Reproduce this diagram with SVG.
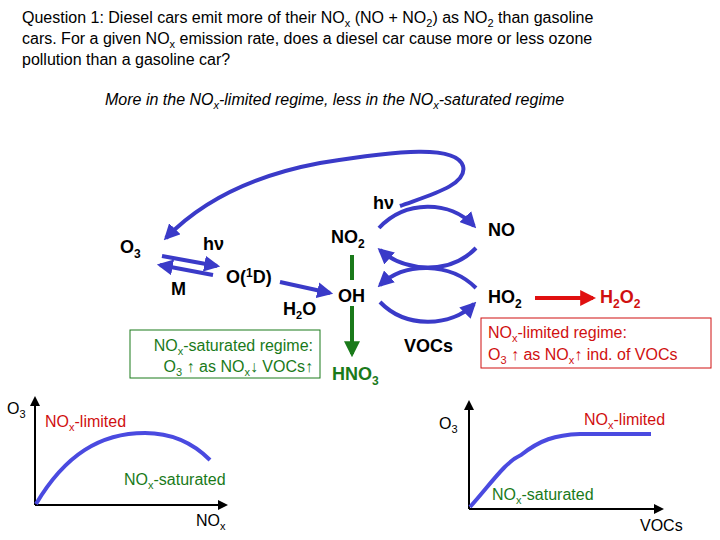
<svg xmlns="http://www.w3.org/2000/svg" width="720" height="540" viewBox="0 0 720 540">
<style>
text{font-family:"Liberation Sans",Arial,sans-serif}
.q{font-size:16px;fill:#000}
.b{font-size:18px;font-weight:bold;fill:#000}
.g{fill:#1a7a1a}
.r{fill:#d01010}
.bl{fill:none;stroke:#3a3ac8;stroke-width:4}
.ax{fill:none;stroke:#000;stroke-width:2}
.n{font-size:16px}
</style>
<defs>
<marker id="ab" viewBox="0 0 10 10" refX="8" refY="5" markerWidth="4" markerHeight="4" orient="auto"><path d="M0,0L10,5L0,10z" fill="#3a3ac8"/></marker>
<marker id="ag" viewBox="0 0 10 10" refX="8" refY="5" markerWidth="4" markerHeight="4" orient="auto"><path d="M0,0L10,5L0,10z" fill="#1a7a1a"/></marker>
<marker id="ar" viewBox="0 0 10 10" refX="8" refY="5" markerWidth="4" markerHeight="4" orient="auto"><path d="M0,0L10,5L0,10z" fill="#e01010"/></marker>
<marker id="ak" viewBox="0 0 10 10" refX="8" refY="5" markerWidth="5" markerHeight="5" orient="auto"><path d="M0,0L10,5L0,10z" fill="#000"/></marker>
</defs>
<rect width="720" height="540" fill="#fff"/>
<g id="question">
<text x="22" y="23" class="q">Question 1: Diesel cars emit more of their NO<tspan font-size="11" dy="4">x</tspan><tspan dy="-4"> (NO + NO</tspan><tspan font-size="11" dy="4">2</tspan><tspan dy="-4">) as NO</tspan><tspan font-size="11" dy="4">2</tspan><tspan dy="-4"> than gasoline</tspan></text>
<text x="22" y="44" class="q">cars. For a given NO<tspan font-size="11" dy="4">x</tspan><tspan dy="-4"> emission rate, does a diesel car cause more or less ozone</tspan></text>
<text x="22" y="65" class="q">pollution than a gasoline car?</text>
<text x="105" y="105" class="q" font-style="italic">More in the NO<tspan font-size="11" dy="4">x</tspan><tspan dy="-4">-limited regime, less in the NO</tspan><tspan font-size="11" dy="4">x</tspan><tspan dy="-4">-saturated regime</tspan></text>
</g>
<g id="connectors">
<path class="bl" marker-end="url(#ab)" d="M400,206 C430,195 468,185 463,166 C456,145 400,150 320,163 C240,178 195,208 166,238"/>
<path class="bl" marker-end="url(#ab)" d="M162,256 L217,266"/>
<path class="bl" marker-end="url(#ab)" d="M213,275 L160,265"/>
<path class="bl" marker-end="url(#ab)" d="M280,282 L330,293"/>
<path class="bl" marker-end="url(#ab)" d="M379,228 C405,200 450,200 474,226"/>
<path class="bl" marker-end="url(#ab)" d="M476,248 C450,275 405,272 380,250"/>
<path class="bl" marker-end="url(#ab)" d="M476,288 C450,262 405,262 380,285"/>
<path class="bl" marker-end="url(#ab)" d="M380,302 C405,328 450,328 474,304"/>
<path fill="none" stroke="#1a7a1a" stroke-width="4" d="M352,255 L352,280"/>
<path fill="none" stroke="#1a7a1a" stroke-width="4" marker-end="url(#ag)" d="M352,306 L352,354"/>
<path fill="none" stroke="#e01010" stroke-width="4" marker-end="url(#ar)" d="M535,298 L593,298"/>
</g>
<g id="O3"><text x="120" y="253" class="b">O<tspan font-size="12" dy="5">3</tspan></text></g>
<g id="hv1"><text x="203" y="250" class="b" font-size="16">hν</text></g>
<g id="M"><text x="171" y="295" class="b">M</text></g>
<g id="O1D"><text x="226" y="283" class="b">O(<tspan font-size="12" dy="-6">1</tspan><tspan dy="6">D)</tspan></text></g>
<g id="H2O"><text x="283" y="315" class="b" font-size="16">H<tspan font-size="11" dy="4">2</tspan><tspan dy="-4">O</tspan></text></g>
<g id="NO2"><text x="331" y="243" class="b">NO<tspan font-size="12" dy="5">2</tspan></text></g>
<g id="OH"><text x="338" y="302" class="b">OH</text></g>
<g id="hv2"><text x="373" y="209" class="b" font-size="16">hν</text></g>
<g id="NO"><text x="488" y="236" class="b">NO</text></g>
<g id="HO2"><text x="488" y="303" class="b">HO<tspan font-size="12" dy="5">2</tspan></text></g>
<g id="H2O2"><text x="600" y="303" class="b r">H<tspan font-size="12" dy="5">2</tspan><tspan dy="-5">O</tspan><tspan font-size="12" dy="5">2</tspan></text></g>
<g id="VOCs"><text x="404" y="352" class="b">VOCs</text></g>
<g id="HNO3"><text x="332" y="380" class="b g">HNO<tspan font-size="12" dy="5">3</tspan></text></g>
<g id="satbox">
<rect x="130" y="330" width="190" height="48" fill="none" stroke="#1a7a1a" stroke-width="1"/>
<text x="313" y="351" class="n g" text-anchor="end">NO<tspan font-size="11" dy="4">x</tspan><tspan dy="-4">-saturated regime:</tspan></text>
<text x="313" y="372" class="n g" text-anchor="end">O<tspan font-size="11" dy="4">3</tspan><tspan dy="-4"> ↑ as NO</tspan><tspan font-size="11" dy="4">x</tspan><tspan dy="-4">↓ VOCs↑</tspan></text>
</g>
<g id="limbox">
<rect x="481" y="318" width="230" height="50" fill="none" stroke="#d01010" stroke-width="1"/>
<text x="488" y="338" class="n r">NO<tspan font-size="11" dy="4">x</tspan><tspan dy="-4">-limited regime:</tspan></text>
<text x="488" y="360" class="n r">O<tspan font-size="11" dy="4">3</tspan><tspan dy="-4"> ↑ as NO</tspan><tspan font-size="11" dy="4">x</tspan><tspan dy="-4">↑ ind. of VOCs</tspan></text>
</g>
<g id="graph1">
<path class="ax" marker-end="url(#ak)" d="M35,505 L35,398"/>
<path class="ax" marker-end="url(#ak)" d="M35,505 L226,505"/>
<path fill="none" stroke="#4a4ae0" stroke-width="4" d="M36,504 C65,455 100,433 145,433 C175,433 195,445 210,460"/>
<text x="7" y="414" class="n">O<tspan font-size="11" dy="4">3</tspan></text>
<text x="45" y="427" class="n r">NO<tspan font-size="11" dy="4">x</tspan><tspan dy="-4">-limited</tspan></text>
<text x="124" y="485" class="n g">NO<tspan font-size="11" dy="4">x</tspan><tspan dy="-4">-saturated</tspan></text>
<text x="196" y="526" class="n">NO<tspan font-size="11" dy="4">x</tspan></text>
</g>
<g id="graph2">
<path class="ax" marker-end="url(#ak)" d="M469,509 L469,402"/>
<path class="ax" marker-end="url(#ak)" d="M469,509 L662,509"/>
<path fill="none" stroke="#4a4ae0" stroke-width="4" d="M470,507 C490,485 505,462 521,455 C540,440 555,435 580,434 L651,434"/>
<text x="439" y="429" class="n">O<tspan font-size="11" dy="4">3</tspan></text>
<text x="584" y="425" class="n r">NO<tspan font-size="11" dy="4">x</tspan><tspan dy="-4">-limited</tspan></text>
<text x="492" y="500" class="n g">NO<tspan font-size="11" dy="4">x</tspan><tspan dy="-4">-saturated</tspan></text>
<text x="640" y="531" class="n">VOCs</text>
</g>
</svg>
